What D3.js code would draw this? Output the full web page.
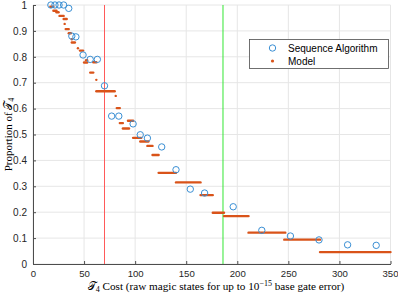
<!DOCTYPE html>
<html>
<head>
<meta charset="utf-8">
<script src="https://cdn.jsdelivr.net/npm/d3@7"></script>
<style>
  body { margin: 0; background: #fff; }
  text { font-family: "Liberation Sans", Arial, sans-serif; }
  .serif { font-family: "Liberation Serif", "DejaVu Serif", serif; }
</style>
</head>
<body>
<script>
const w = 398
const h = 294
const m = { left: 33, right: 7.5, top: 5, bottom: 30 }

// Sequence Algorithm: cost and proportion
const seqCost = [17.5, 21.5, 25.5, 30, 35, 38, 42, 49, 56, 63, 70, 77, 84, 98, 105, 112, 126, 140, 154, 168, 196, 224, 252, 280, 308, 336]
const seqProp = [1, 1, 1, 1, 0.987, 0.88, 0.877, 0.807, 0.79, 0.79, 0.688, 0.571, 0.571, 0.541, 0.499, 0.486, 0.452, 0.364, 0.289, 0.274, 0.221, 0.13, 0.108, 0.093, 0.074, 0.072]

// Model: runs of equal proportion, from cost to cost
const modelFrom = [17, 20, 23, 26, 30, 31, 32, 35, 38, 38, 44, 46, 50, 52, 56, 59, 62, 62, 81, 82, 85, 88, 93, 98, 105, 112, 117, 123, 140, 164, 176, 187, 211, 246, 281]
const modelTo   = [20, 23, 25, 30, 33, 31, 35, 37, 38, 41, 44, 49, 53, 53, 59, 62, 62, 80, 81, 85, 88, 94, 98, 106, 113, 117, 123, 140, 164, 176, 187, 211, 247, 281, 350]
const modelProp = [0.993, 0.978, 0.972, 0.958, 0.946, 0.927, 0.907, 0.891, 0.868, 0.855, 0.833, 0.824, 0.778, 0.787, 0.739, 0.779, 0.711, 0.667, 0.649, 0.602, 0.544, 0.523, 0.553, 0.487, 0.473, 0.456, 0.421, 0.352, 0.315, 0.266, 0.198, 0.185, 0.121, 0.094, 0.046]

const xTicks = [0, 50, 100, 150, 200, 250, 300, 350]
const yTicks = [0, 0.1, 0.2, 0.3, 0.4, 0.5, 0.6, 0.7, 0.8, 0.9, 1]
const redCost = 70
const greenCost = 186

const svg = d3.select('body').append('svg').attr('width', w).attr('height', h)

const x = d3.scaleLinear().domain([0, 350]).range([m.left, w - m.right])
const y = d3.scaleLinear().domain([0, 1]).range([h - m.bottom, m.top])

// grid
svg.append('g').selectAll('line').data(xTicks).enter().append('line')
  .attr('x1', d => x(d)).attr('x2', d => x(d))
  .attr('y1', y(0)).attr('y2', y(1))
  .attr('stroke', '#e6e6e6')
svg.append('g').selectAll('line').data(yTicks).enter().append('line')
  .attr('x1', x(0)).attr('x2', x(350))
  .attr('y1', d => y(d)).attr('y2', d => y(d))
  .attr('stroke', '#e6e6e6')

// axes
const bottomAxis = d3.axisBottom(x).tickValues(xTicks).tickSizeInner(-3).tickSizeOuter(0).tickPadding(6).tickFormat(d3.format('d'))
const leftAxis = d3.axisLeft(y).tickValues(yTicks).tickSizeInner(-3).tickSizeOuter(0).tickPadding(6).tickFormat(d => d3.format('~g')(d))

const gx = svg.append('g').attr('transform', 'translate(0,' + y(0) + ')').call(bottomAxis)
const gy = svg.append('g').attr('transform', 'translate(' + x(0) + ',0)').call(leftAxis)
;[gx, gy].forEach(g => {
  g.select('.domain').attr('stroke', '#4d4d4d')
  g.selectAll('.tick line').attr('stroke', '#4d4d4d')
  g.selectAll('.tick text').attr('fill', '#262626').style('font-size', '10px')
})
gx.selectAll('.tick text').style('font-size', '9.6px')
// keep the last label inside the window
gx.selectAll('.tick text').filter(d => d === 350).attr('text-anchor', 'end').attr('dx', 7.5)

// reference lines
svg.append('line').attr('x1', x(redCost)).attr('x2', x(redCost)).attr('y1', y(0)).attr('y2', y(1))
  .attr('stroke', '#ff5a5a').attr('stroke-width', 1)
svg.append('line').attr('x1', x(greenCost)).attr('x2', x(greenCost)).attr('y1', y(0)).attr('y2', y(1))
  .attr('stroke', '#33e633').attr('stroke-width', 1)

// model
svg.append('g').selectAll('line').data(modelProp).enter().append('line')
  .attr('x1', (d, i) => x(modelFrom[i])).attr('x2', (d, i) => x(modelTo[i]))
  .attr('y1', d => y(d)).attr('y2', d => y(d))
  .attr('stroke', '#D95319').attr('stroke-width', 2.4).attr('stroke-linecap', 'round')

// sequence algorithm
svg.append('g').selectAll('circle').data(seqProp).enter().append('circle')
  .attr('cx', (d, i) => x(seqCost[i])).attr('cy', d => y(d)).attr('r', 3.2)
  .attr('fill', 'none').attr('stroke', '#3a8fd4').attr('stroke-width', 1)

// legend
const lg = svg.append('g').attr('transform', 'translate(249.5,39.5)')
lg.append('rect').attr('width', 139).attr('height', 29).attr('fill', '#fff').attr('stroke', '#4d4d4d').attr('stroke-width', 0.8)
lg.append('circle').attr('cx', 23).attr('cy', 8.5).attr('r', 3.2).attr('fill', 'none').attr('stroke', '#3a8fd4')
lg.append('circle').attr('cx', 23).attr('cy', 21.5).attr('r', 1.6).attr('fill', '#D95319')
lg.append('text').attr('x', 38.5).attr('y', 12).text('Sequence Algorithm').style('font-size', '10px').attr('fill', '#000')
lg.append('text').attr('x', 38.5).attr('y', 25).text('Model').style('font-size', '10px').attr('fill', '#000')

// axis labels
const xl = svg.append('text').attr('class', 'serif').attr('x', 216).attr('y', 290)
  .attr('text-anchor', 'middle').style('font-size', '11.2px').attr('fill', '#000')
xl.append('tspan').text('𝒯')
xl.append('tspan').text('4').attr('dy', 2).style('font-size', '8px')
xl.append('tspan').text(' Cost (raw magic states for up to 10').attr('dy', -2)
xl.append('tspan').text('−15').attr('dy', -4).style('font-size', '8px')
xl.append('tspan').text(' base gate error)').attr('dy', 4)

const yl = svg.append('text').attr('class', 'serif')
  .attr('transform', 'translate(12,' + ((y(0) + y(1)) / 2) + ') rotate(-90)')
  .attr('text-anchor', 'middle').style('font-size', '11px').attr('fill', '#000')
yl.append('tspan').text('Proportion of 𝒯')
yl.append('tspan').text('4').attr('dy', 2).style('font-size', '8px')
</script>
</body>
</html>
